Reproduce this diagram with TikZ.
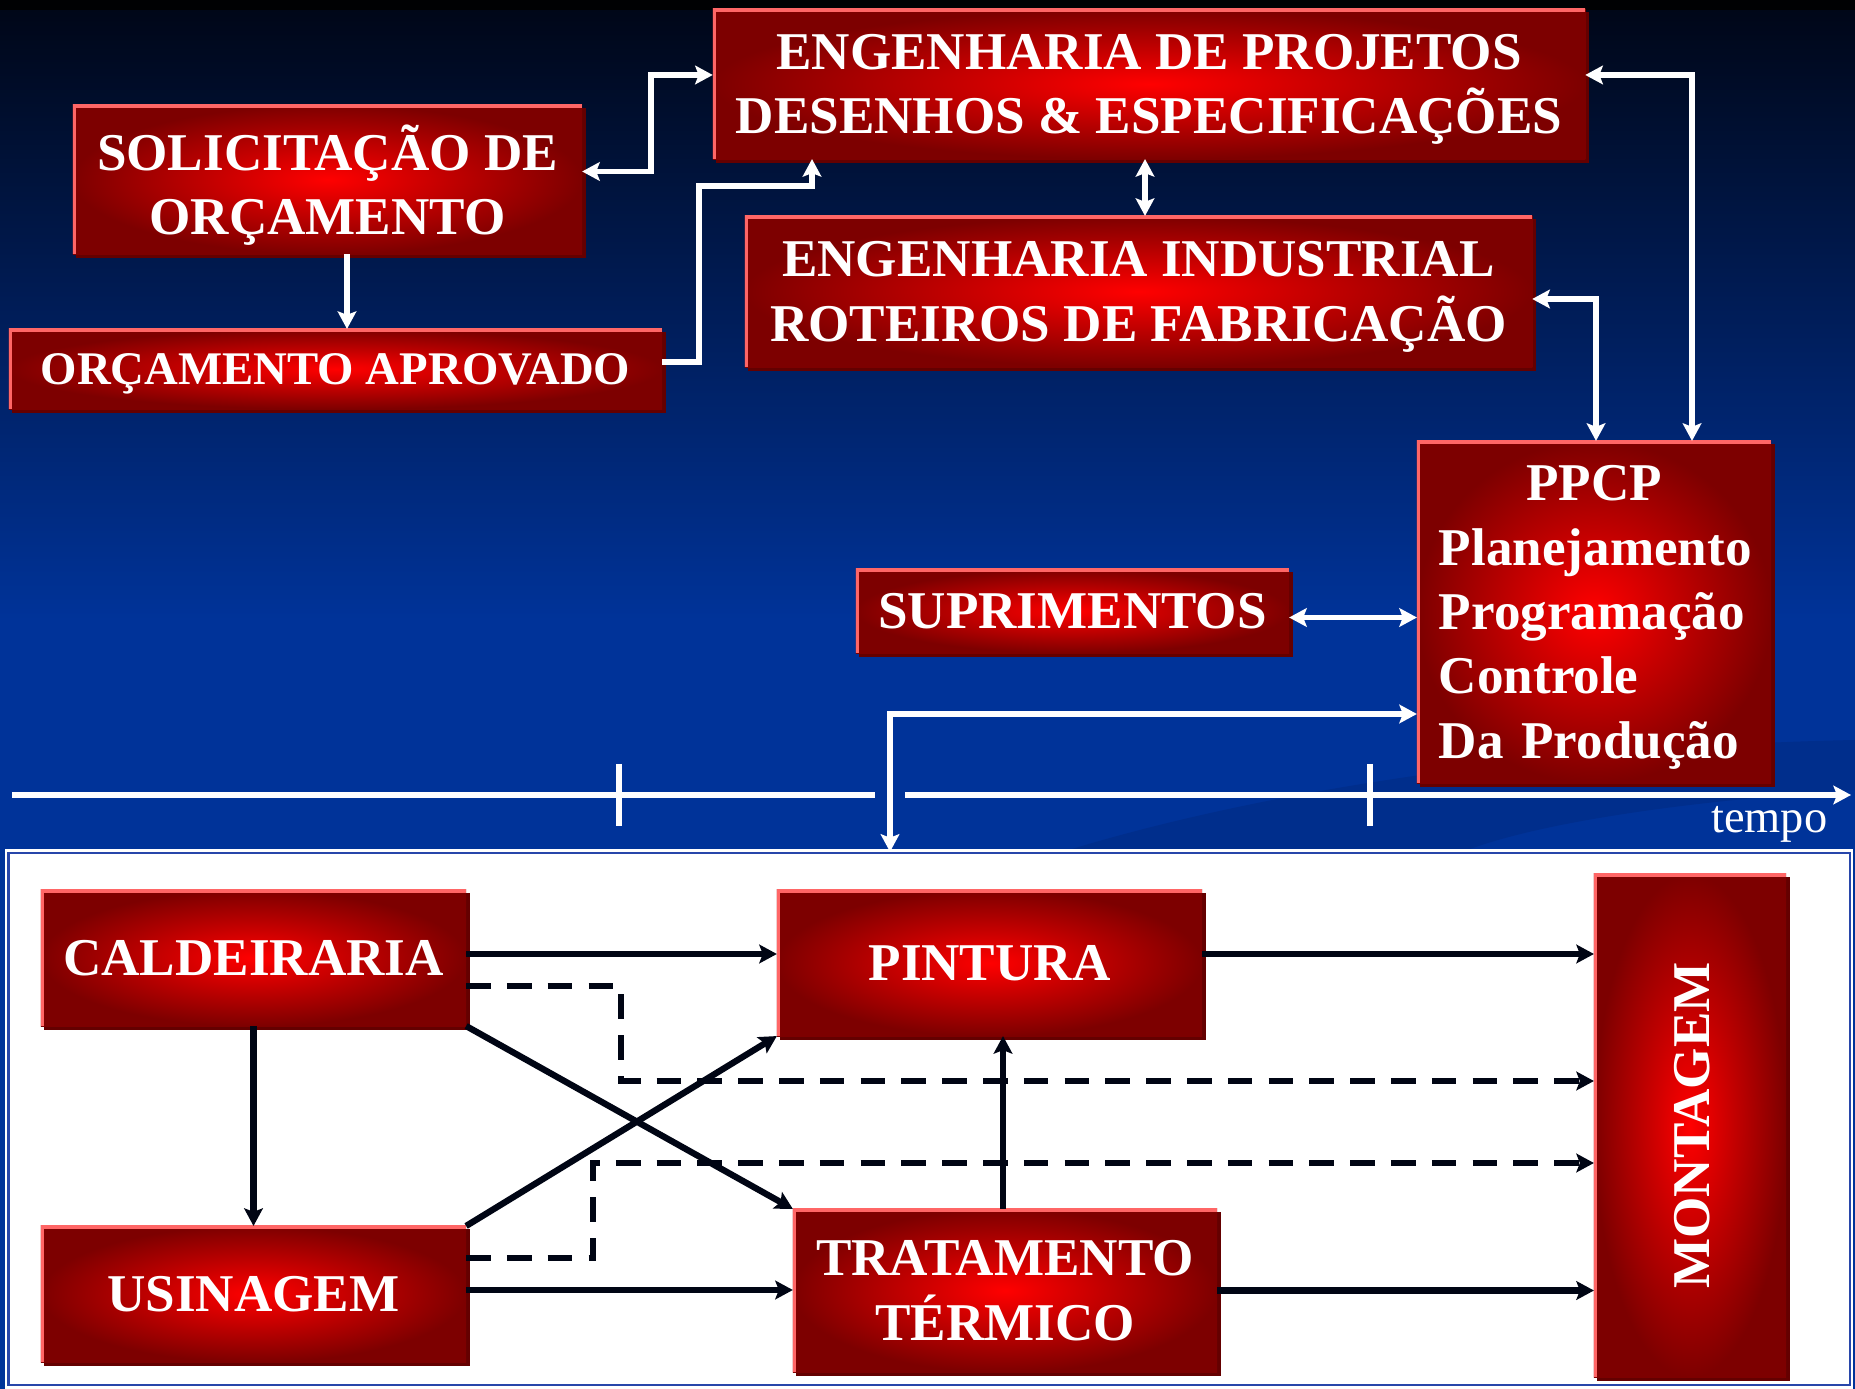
\documentclass[tikz,border=0pt]{standalone}
\usepackage{fontspec}
\setmainfont{Liberation Serif}
\usetikzlibrary{arrows.meta,shadows}

\definecolor{boxred}{RGB}{255,0,0}
\definecolor{boxdark}{RGB}{125,0,0}
\definecolor{boxedge}{RGB}{255,102,102}
\definecolor{boxshade}{RGB}{100,0,0}
\definecolor{bgtop}{RGB}{0,6,22}
\definecolor{bgblue}{RGB}{0,51,153}
\definecolor{swoosh}{RGB}{0,46,140}
\definecolor{panelblue}{RGB}{40,70,170}
\definecolor{arrowblack}{RGB}{0,5,20}

\newcommand{\bigtext}{\bfseries\fontsize{15.1pt}{18.3pt}\selectfont}

\begin{document}
\begin{tikzpicture}[x=0.01cm,y=-0.01cm,>={Stealth[length=5pt,width=5.3pt,inset=1pt]},
    redbox/.style={rectangle, inner color=boxred, outer color=boxdark, text=white, font=\bigtext, align=center, inner sep=0pt, outer sep=0pt, text depth=0pt,
        drop shadow={shadow xshift=0.035cm, shadow yshift=-0.035cm, fill=boxshade, opacity=1},
        path picture={\draw[boxedge, line width=0.07cm] (path picture bounding box.south west) -- (path picture bounding box.north west) -- (path picture bounding box.north east);}},
    wline/.style={draw=white, line width=1.5pt},
    tline/.style={draw=white, line width=1.9pt},
    bline/.style={draw=arrowblack, line width=1.8pt},
    dline/.style={bline, line width=1.7pt, dash pattern=on 7pt off 4.6pt}]

    \useasboundingbox (0,0) rectangle (1855,1389);

    % background
    \fill[bgblue] (0,0) rectangle (1855,1389);
    \shade[top color=bgtop, bottom color=bgblue] (0,0) rectangle (1855,620);
    \fill[black!85!bgtop] (0,0) rectangle (1855,10);
    \fill[swoosh] (1072,849) .. controls (1300,780) and (1600,745) .. (1855,740) -- (1855,790) .. controls (1700,800) and (1550,820) .. (1470,849) -- cycle;
    \fill[white] (5,849) rectangle (1853,1389);
    \node[draw=panelblue, line width=0.6pt, minimum width=18.40cm, minimum height=5.32cm, inner sep=0pt] (panel) at (929,1119) {};

    % upper part
    \node[redbox, minimum width=5.09cm, minimum height=1.49cm] (solic) at (327.5,179.5) {SOLICITAÇÃO DE\\ORÇAMENTO};
    \node[redbox, minimum width=6.53cm, minimum height=0.80cm, font=\bfseries\fontsize{13.3pt}{16pt}\selectfont] (aprov) at (335.5,369) {ORÇAMENTO APROVADO};
    \node[redbox, minimum width=8.72cm, minimum height=1.50cm] (proj) at (1149,84) {ENGENHARIA DE PROJETOS\\DESENHOS \& ESPECIFICAÇÕES};
    \node[redbox, minimum width=7.87cm, minimum height=1.51cm] (indus) at (1138.5,291.5) {ENGENHARIA INDUSTRIAL\\ROTEIROS DE FABRICAÇÃO};
    \node[redbox, text depth=, minimum width=3.54cm, minimum height=3.42cm, text width=3.10cm, align=left] (ppcp) at (1594,612) {\rule{0pt}{13.1pt}\hfill PPCP\hfill\null\\Planejamento\\Programação\\Controle\\Da Produção};
    \node[redbox, minimum width=4.33cm, minimum height=0.84cm] (supri) at (1072.5,611) {SUPRIMENTOS};

    \draw[wline,->] (solic.south -| 347,0) -- (aprov.north -| 347,0);
    \draw[wline,<->] ([yshift=0.08cm]solic.east) -| (651,120) |- ([yshift=0.09cm]proj.west);
    \draw[wline,->] ([yshift=0.07cm]aprov.east) -| (699,186) -| (proj.south -| 812,0);
    \draw[wline,<->] (proj.south -| 1145,0) -- (indus.north -| 1145,0);
    \draw[wline,<->] ([yshift=0.09cm]proj.east) -| (ppcp.north -| 1692,0);
    \draw[wline,<->] ([yshift=-0.075cm]indus.east) -| (ppcp.north -| 1596,0);
    \draw[wline,<->] ([yshift=-0.065cm]supri.east) -- ([yshift=-0.065cm]supri.east -| ppcp.west);
    \draw[wline,<->] (ppcp.west |- 0,714) -| (panel.north -| 890,0);

    % time axis
    \draw[tline] (12,795) -- (875,795);
    \draw[tline,->] (905,795) -- (1851,795);
    \draw[tline, line width=1.5pt] (619,764) -- (619,826);
    \draw[tline, line width=1.5pt] (1370,764) -- (1370,826);
    \node[text=white, font=\fontsize{13.2pt}{15pt}\selectfont, anchor=base east, inner sep=0pt] (tempo) at (1828,832) {tempo};

    % lower part
    \node[redbox, minimum width=4.25cm, minimum height=1.36cm] (cald) at (253.5,958) {CALDEIRARIA};
    \node[redbox, minimum width=4.25cm, minimum height=1.36cm] (usin) at (253.5,1294) {USINAGEM};
    \node[redbox, minimum width=4.25cm, minimum height=1.46cm] (pint) at (989.5,963) {PINTURA};
    \node[redbox, minimum width=4.24cm, minimum height=1.63cm] (trat) at (1005,1290.5) {TRATAMENTO\\TÉRMICO};
    \node[redbox, minimum width=1.92cm, minimum height=5.03cm] (mont) at (1690,1125.5) {\hspace{0.04cm}\rotatebox{90}{MONTAGEM}};

    \draw[dline,->] ([yshift=-0.28cm]cald.east) -| (621,1081) -- (mont.west |- 0,1081);
    \draw[dline,->] ([yshift=0.36cm]usin.east) -| (593,1163) -- (mont.west |- 0,1163);

    \path[->, every edge/.append style={bline}]
        ([yshift=0.04cm]cald.east) edge ([yshift=0.04cm]cald.east -| pint.west)
        ([yshift=0.09cm]pint.east) edge ([yshift=0.09cm]pint.east -| mont.west)
        (cald) edge (usin)
        (cald.south east) edge (trat.north west)
        (usin.north east) edge (pint.south west)
        (trat.north -| 1003,0) edge (pint.south -| 1003,0)
        ([yshift=0.04cm]usin.east) edge ([yshift=0.04cm]usin.east -| trat.west)
        (trat.east) edge (trat.east -| mont.west)
        ;
\end{tikzpicture}
\end{document}
